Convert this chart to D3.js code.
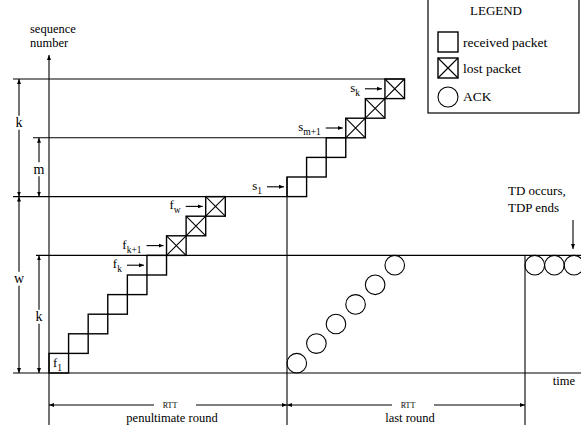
<!DOCTYPE html>
<html>
<head>
<script src="https://d3js.org/d3.v7.min.js"></script>
<style>
  body { margin: 0; background: #fff; }
  text { font-family: "Liberation Serif", "Times New Roman", Times, serif; fill: #000; }
  .ln { stroke: #000; stroke-width: 1.1; fill: none; }
  .box { stroke: #000; stroke-width: 1.4; fill: none; }
</style>
</head>
<body>
<svg id="chart" width="581" height="435"></svg>
<script>
// penultimate round: sequence numbers and which ones got lost
const fSeq = [0, 1, 2, 3, 4, 5, 6, 7, 8];
const fLost = [false, false, false, false, false, false, true, true, true];
// last round
const sSeq = [9, 10, 11, 12, 13, 14];
const sLost = [false, false, false, true, true, true];
// ACKs coming back in the last round (seq offset) and the duplicate ACKs at TD
const ackSeq = [0, 1, 2, 3, 4, 5];
const tdAckSlot = [0, 1, 2];
const tdAckSeq = 5;
const rtt = 12.15;            // one round trip, in packet slots
const levels = [0, 6, 9, 12, 15];
// dimension brackets on the left
const dims = [
  { from: 9, to: 15, label: "k", col: 0 },
  { from: 0, to: 9, label: "w", col: 0 },
  { from: 9, to: 12, label: "m", col: 1 },
  { from: 0, to: 6, label: "k", col: 1 }
];
// packet labels: which packet, name, subscript
const fLabels = [
  { i: 5, name: "f", sub: "k" },
  { i: 6, name: "f", sub: "k+1" },
  { i: 8, name: "f", sub: "w" }
];
const sLabels = [
  { i: 0, name: "s", sub: "1" },
  { i: 3, name: "s", sub: "m+1" },
  { i: 5, name: "s", sub: "k" }
];
const legendItems = ["received packet", "lost packet", "ACK"];

const svg = d3.select("#chart");
const x = d3.scaleLinear().domain([0, 2 * rtt]).range([49, 525]);
const y = d3.scaleLinear().domain([0, 15]).range([373, 79]);
const bw = x(1) - x(0), bh = y(0) - y(1);

const defs = svg.append("defs");
defs.append("marker").attr("id", "ah")
  .attr("viewBox", "0 0 10 10").attr("refX", 10).attr("refY", 5)
  .attr("markerWidth", 5).attr("markerHeight", 5)
  .attr("markerUnits", "userSpaceOnUse")
  .attr("orient", "auto-start-reverse")
  .append("path").attr("d", "M0,1 L10,5 L0,9 Z").attr("fill", "#000");

function line(x1, y1, x2, y2, ends) {
  const l = svg.append("line").attr("class", "ln")
    .attr("x1", x1).attr("y1", y1).attr("x2", x2).attr("y2", y2);
  if (ends === "end" || ends === "both") l.attr("marker-end", "url(#ah)");
  if (ends === "start" || ends === "both") l.attr("marker-start", "url(#ah)");
  return l;
}

// horizontal level lines
const leftEnd = { 0: 13, 6: 36, 9: 13, 12: 33, 15: 13 };
const rightEnd = { 0: 581, 6: 581, 9: x(rtt), 12: x(rtt + 3), 15: x(rtt + 6) };
levels.forEach(s => line(leftEnd[s], y(s), rightEnd[s], y(s)));

// vertical lines
line(x(0), 425, x(0), 55, "end");
line(x(rtt), y(10), x(rtt), 425);
line(x(2 * rtt), y(6), x(2 * rtt), 425);

// packets
function drawBox(bx, seq, lost) {
  const by = y(seq + 1);
  svg.append("rect").attr("class", "box")
    .attr("x", bx).attr("y", by).attr("width", bw).attr("height", bh);
  if (lost) {
    svg.append("path").attr("class", "ln")
      .attr("d", `M${bx},${by}L${bx + bw},${by + bh}M${bx + bw},${by}L${bx},${by + bh}`);
  }
}
fSeq.forEach((s, i) => drawBox(x(i), s, fLost[i]));
sSeq.forEach((s, j) => drawBox(x(rtt + j), s, sLost[j]));

// ACKs
ackSeq.forEach((s, j) => {
  svg.append("circle").attr("class", "ln").attr("stroke-width", 1.3)
    .attr("cx", x(rtt + j + 0.5)).attr("cy", y(s + 0.5)).attr("r", bw / 2);
});
tdAckSlot.forEach(j => {
  svg.append("circle").attr("class", "ln").attr("stroke-width", 1.3)
    .attr("cx", x(2 * rtt + j + 0.5)).attr("cy", y(tdAckSeq + 0.5)).attr("r", bw / 2);
});

// labels with arrows
function sublabel(tx, ty, name, sub, anchor) {
  const t = svg.append("text").attr("x", tx).attr("y", ty)
    .attr("text-anchor", anchor || "end").style("font-size", "13px");
  t.append("tspan").text(name);
  t.append("tspan").attr("dy", 4).style("font-size", "9.5px").text(sub);
}
function packetLabel(bx, seq, d) {
  const cy = y(seq + 0.5);
  line(bx - 20, cy, bx - 3, cy, "end");
  sublabel(bx - 25, cy + 3, d.name, d.sub);
}
fLabels.forEach(d => packetLabel(x(d.i), fSeq[d.i], d));
sLabels.forEach(d => packetLabel(x(rtt + d.i), sSeq[d.i], d));
sublabel(x(0) + 4, y(0) - 6, "f", "1", "start");

// dimension brackets
const colX = [19, 39];
const labelShift = [-15, -6, 2, 2.5];
dims.forEach((d, i) => {
  const cx = colX[d.col];
  const y1 = y(d.to), y2 = y(d.from), m = (y1 + y2) / 2 + labelShift[i];
  line(cx, m - 7, cx, y1, "end");
  line(cx, m + 7, cx, y2, "end");
  svg.append("text").attr("x", cx).attr("y", m + 4.5)
    .attr("text-anchor", "middle").style("font-size", "14px").text(d.label);
});

// RTT brackets
[[0, rtt, "penultimate round"], [rtt, 2 * rtt, "last round"]].forEach(([a, b, name]) => {
  const cx = (x(a) + x(b)) / 2, ly = 405;
  line(cx - 14, ly, x(a), ly, "end");
  line(cx + 28, ly, x(b), ly, "end");
  svg.append("text").attr("x", cx + 2).attr("y", ly + 3)
    .attr("text-anchor", "middle").style("font-size", "8px").text("RTT");
  svg.append("text").attr("x", cx + 4).attr("y", ly + 17)
    .attr("text-anchor", "middle").style("font-size", "12.5px").text(name);
});

// axis titles
svg.append("text").attr("x", 30).attr("y", 33).style("font-size", "12.5px").text("sequence");
svg.append("text").attr("x", 30).attr("y", 47).style("font-size", "12.5px").text("number");
svg.append("text").attr("x", 575).attr("y", 385).attr("text-anchor", "end")
  .style("font-size", "12.5px").text("time");

// TD annotation
svg.append("text").attr("x", 508).attr("y", 195).style("font-size", "13px").text("TD occurs,");
svg.append("text").attr("x", 508).attr("y", 212).style("font-size", "13px").text("TDP ends");
line(573, 220, 573, 249, "end");

// legend
const lg = svg.append("g");
lg.append("rect").attr("x", 428).attr("y", -1).attr("width", 151).attr("height", 114)
  .attr("fill", "#fff").attr("stroke", "#000").attr("stroke-width", 1.2);
lg.append("text").attr("x", 496).attr("y", 15).attr("text-anchor", "middle")
  .style("font-size", "13px").text("LEGEND");
legendItems.forEach((name, i) => {
  const iy = 32 + i * 26;
  if (i < 2) {
    lg.append("rect").attr("class", "box").attr("x", 438).attr("y", iy)
      .attr("width", 20).attr("height", 20);
    if (i === 1) lg.append("path").attr("class", "ln")
      .attr("d", `M438,${iy}L458,${iy + 20}M458,${iy}L438,${iy + 20}`);
  } else {
    lg.append("circle").attr("class", "ln").attr("stroke-width", 1.3)
      .attr("cx", 448).attr("cy", iy + 13).attr("r", 10);
  }
  lg.append("text").attr("x", 463).attr("y", iy + (i < 2 ? 15 : 17))
    .style("font-size", "13.5px").text(name);
});
</script>
</body>
</html>
